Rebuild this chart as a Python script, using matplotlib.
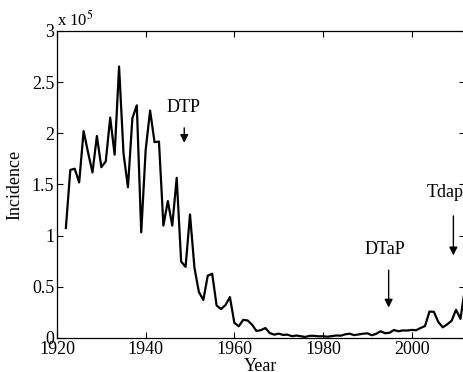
import matplotlib
matplotlib.use('Agg')
import matplotlib.pyplot as plt

plt.rcParams['font.family'] = ['Liberation Serif', 'DejaVu Serif']
plt.rcParams['mathtext.fontset'] = 'stix'

years = list(range(1922, 2013))
cases = [107473, 164191, 165418, 152003, 202210, 181411, 161799, 197371, 166914, 172559,
         215343, 179135, 265269, 180518, 147237, 214652, 227319, 103188, 183866, 222202,
         191383, 191890, 109873, 133792, 109860, 156517, 74715, 69479, 120718, 68687,
         45030, 37129, 60886, 62786, 31732, 28295, 32148, 40005, 14809, 11468,
         17749, 17135, 13005, 6799, 7717, 9718, 4810, 3285, 4249, 3036,
         3287, 1759, 2402, 1738, 1010, 2177, 2063, 1623, 1730, 1248,
         1895, 2463, 2276, 3589, 4195, 2823, 3450, 4157, 4570, 2719,
         4083, 6586, 4617, 5137, 7796, 6564, 7405, 7298, 7867, 7580,
         9771, 11647, 25827, 25616, 15632, 10454, 13278, 16858, 27550, 18719,
         48277]

labels = ['DTP', 'DTaP', 'Tdap']
label_years = [1948.7, 1994.8, 2009.4]
arrow_tail = [2.08, 0.69, 1.22]
arrow_head = [1.88, 0.27, 0.78]
text_y = [2.25, 0.86, 1.42]
text_x = [1948.5, 1993.9, 2007.6]

fig = plt.figure(figsize=(4.63, 3.72), dpi=100)
ax = fig.add_axes([0.1231, 0.0914, 0.881, 0.8253])

ax.plot(years, [c / 1e5 for c in cases], color='black', lw=1.6)

for lab, xa, yt, yh, ty, tx in zip(labels, label_years, arrow_tail, arrow_head, text_y, text_x):
    ax.annotate('', xy=(xa, yh), xytext=(xa, yt),
                arrowprops=dict(arrowstyle='-|>', color='black', lw=1.0, mutation_scale=12))
    ax.text(tx, ty, lab, ha='center', va='center', fontsize=13)

ax.set_xlim(1920, 2012)
ax.set_ylim(0, 3)
ax.set_xticks([1920, 1940, 1960, 1980, 2000])
ax.set_yticks([0, 0.5, 1, 1.5, 2, 2.5, 3])
ax.set_yticklabels(['0', '0.5', '1', '1.5', '2', '2.5', '3'])
ax.tick_params(direction='in', top=True, right=True, labelsize=13, length=4, width=0.8, pad=2)
for s in ax.spines.values():
    s.set_linewidth(0.9)

ax.set_xlabel('Year', fontsize=13, labelpad=0)
ax.set_ylabel('Incidence', fontsize=13, labelpad=6)
ax.text(0.0, 1.005, r'x 10$^{5}$', transform=ax.transAxes, fontsize=12, ha='left', va='bottom')

plt.savefig('out.png', dpi=100)
